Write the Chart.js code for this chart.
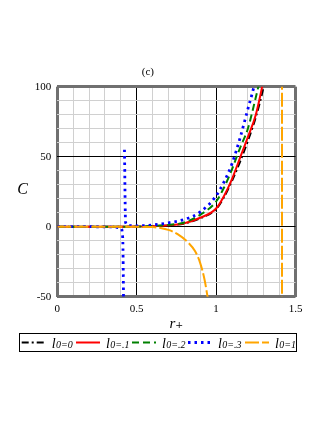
<!DOCTYPE html>
<html lang="en">
<head>
    <meta charset="UTF-8">
    <title>Heat capacity C vs r+</title>
    <style>
        body { margin: 0; background: #fff; }
        .wrap { position: relative; width: 327px; height: 423px; }
    </style>
</head>
<body>
    <div class="wrap"><canvas id="chart"></canvas></div>

    <script src="https://cdn.jsdelivr.net/npm/chart.js"></script>
    <script>
        // values (r+ , C) for each l0
        const rL0 = [0, 0.2, 0.4, 0.5, 0.6, 0.7, 0.8, 0.9, 1.0, 1.05, 1.1, 1.15, 1.2, 1.25, 1.3, 1.32];
        const cL0 = [0, 0, 0, 0.1, 0.3, 0.9, 2.3, 6, 12.5, 21, 32.5, 46, 61, 78, 100, 112];

        const rL1 = [0, 0.2, 0.4, 0.5, 0.6, 0.7, 0.8, 0.9, 1.0, 1.05, 1.1, 1.15, 1.2, 1.25, 1.29, 1.31];
        const cL1 = [0, 0, 0, 0.1, 0.3, 1.0, 2.5, 6.4, 13, 22, 34, 49, 64, 80, 100, 112];

        const rL2 = [0, 0.2, 0.4, 0.5, 0.6, 0.7, 0.8, 0.9, 1.0, 1.05, 1.1, 1.15, 1.2, 1.245, 1.266, 1.29];
        const cL2 = [0, 0, 0, 0.1, 0.5, 1.3, 3, 8.5, 18, 28, 41, 56, 70, 90, 100, 112];

        // l0 = .3 has a pole near r+ = 0.42 (null = break in the curve)
        const rL3 = [0, 0.2, 0.35, 0.4, 0.412, 0.418, 0.42, 0.423, 0.43, 0.45, 0.5, 0.6, 0.7, 0.8, 0.9, 1.0, 1.05, 1.1, 1.15, 1.2, 1.238, 1.26];
        const cL3 = [0, 0, -0.2, -1, -8, -60, null, 55, 3, 0.8, 0.6, 1.2, 2.8, 5.2, 10.5, 22, 32, 45, 63, 84, 100, 112];

        // l0 = 1 turns negative and has a pole at r+ ~ 1.415
        const rL4 = [0, 0.2, 0.4, 0.5, 0.6, 0.65, 0.7, 0.76, 0.825, 0.867, 0.9, 0.929, 0.946, 0.97, 1.2, 1.4149, 1.4151];
        const cL4 = [0, 0, 0, -0.1, -0.3, -0.9, -2.3, -5.5, -11.4, -17.4, -26, -38.8, -50, -65, null, -60, 110];

        const seriesLabels = ['0', '.1', '.2', '.3', '1'];
        const xLabelTicks = [0, 0.5, 1, 1.5];
        const yLabelTicks = [-50, 0, 50, 100];

        function pts(r, c) {
            return r.map((x, i) => ({ x: x, y: c[i] }));
        }

        const serif = '"Liberation Serif", "DejaVu Serif", serif';

        function isMajor(v, list) {
            return list.some(t => Math.abs(t - v) < 1e-6);
        }

        // legend + the upright "C" axis label, drawn like the original plot
        const legendX = [21.7, 76, 132, 188, 245];
        const extrasPlugin = {
            id: 'extras',
            afterDraw(chart) {
                const ctx = chart.ctx;
                ctx.save();

                ctx.fillStyle = '#000';
                ctx.font = 'italic 16px ' + serif;
                ctx.textAlign = 'center';
                ctx.textBaseline = 'middle';
                ctx.fillText('C', 22.7, 190);

                // legend box
                ctx.strokeStyle = '#000';
                ctx.lineWidth = 1;
                ctx.setLineDash([]);
                ctx.strokeRect(19.5, 333.5, 277, 18);

                const y = 342.5;
                chart.data.datasets.forEach((ds, i) => {
                    let x = legendX[i];
                    ctx.save();
                    ctx.strokeStyle = ds.borderColor;
                    ctx.lineWidth = ds.borderWidth;
                    ctx.setLineDash(ds.borderDash || []);
                    ctx.beginPath();
                    ctx.moveTo(x, y);
                    ctx.lineTo(x + 24, y);
                    ctx.stroke();
                    ctx.restore();
                    x += 30;

                    ctx.textAlign = 'left';
                    ctx.textBaseline = 'alphabetic';
                    ctx.font = 'italic 14px ' + serif;
                    ctx.fillText('l', x, y + 5);
                    x += ctx.measureText('l').width + 0.3;
                    ctx.font = 'italic 10px ' + serif;
                    ctx.fillText('0=' + seriesLabels[i], x, y + 5.5);
                });
                ctx.restore();
            }
        };

        const common = { pointRadius: 0, fill: false, clip: 0, cubicInterpolationMode: 'monotone', borderCapStyle: 'butt' };

        const chart = new Chart(document.getElementById('chart'), {
            type: 'line',
            data: {
                datasets: [
                    Object.assign({ data: pts(rL0, cL0), borderColor: '#000000', borderWidth: 1.8, borderDash: [7, 3, 2, 3], order: 5 }, common),
                    Object.assign({ data: pts(rL1, cL1), borderColor: '#ff0000', borderWidth: 2, borderDash: [], order: 4 }, common),
                    Object.assign({ data: pts(rL2, cL2), borderColor: '#008000', borderWidth: 2, borderDash: [7, 4], order: 3 }, common),
                    Object.assign({ data: pts(rL3, cL3), borderColor: '#0000ff', borderWidth: 2.8, borderDash: [2.5, 4], order: 2 }, common),
                    Object.assign({ data: pts(rL4, cL4), borderColor: '#ffa500', borderWidth: 2, borderDash: [14, 3], order: 1 }, common)
                ]
            },
            options: {
                responsive: true,
                maintainAspectRatio: false,
                animation: false,
                layout: { padding: { left: 0.3, right: 31.5, top: 0, bottom: 90.3 } },
                plugins: {
                    legend: { display: false },
                    tooltip: { enabled: false },
                    title: {
                        display: true,
                        text: '(c)',
                        color: '#000',
                        font: { family: serif, size: 11, weight: 'normal', lineHeight: 1.2 },
                        padding: { top: 66, bottom: 7.5 }
                    }
                },
                scales: {
                    x: {
                        type: 'linear',
                        min: 0,
                        max: 1.5,
                        border: { display: false },
                        afterFit: s => { s.height = 36; },
                        grid: {
                            drawTicks: false,
                            color: c => {
                                const v = c.tick.value;
                                if (Math.abs(v) < 1e-6 || Math.abs(v - 1.5) < 1e-6) return '#707070';
                                return isMajor(v, xLabelTicks) ? '#000' : '#d0d0d0';
                            },
                            lineWidth: c => {
                                const v = c.tick.value;
                                return (Math.abs(v) < 1e-6 || Math.abs(v - 1.5) < 1e-6) ? 3 : 1;
                            }
                        },
                        ticks: {
                            stepSize: 0.1,
                            maxTicksLimit: 40,
                            autoSkip: false,
                            maxRotation: 0,
                            padding: 6,
                            color: '#000',
                            font: { family: serif, size: 11 },
                            callback: v => isMajor(v, xLabelTicks) ? String(Math.round(v * 10) / 10) : ''
                        },
                        title: {
                            display: true,
                            text: 'r₊',
                            color: '#000',
                            font: { family: serif, size: 15, style: 'italic', lineHeight: 1.2 },
                            padding: { top: 0, bottom: 0 }
                        }
                    },
                    y: {
                        min: -50,
                        max: 100,
                        border: { display: false },
                        afterFit: s => { s.width = 57; },
                        grid: {
                            drawTicks: false,
                            color: c => {
                                const v = c.tick.value;
                                if (v === -50 || v === 100) return '#707070';
                                return isMajor(v, yLabelTicks) ? '#000' : '#d0d0d0';
                            },
                            lineWidth: c => (c.tick.value === -50 || c.tick.value === 100) ? 3 : 1
                        },
                        ticks: {
                            stepSize: 10,
                            maxTicksLimit: 40,
                            autoSkip: false,
                            padding: 6,
                            color: '#000',
                            font: { family: serif, size: 11 },
                            callback: v => isMajor(v, yLabelTicks) ? String(v) : ''
                        }
                    }
                }
            },
            plugins: [extrasPlugin]
        });
    </script>
</body>
</html>
